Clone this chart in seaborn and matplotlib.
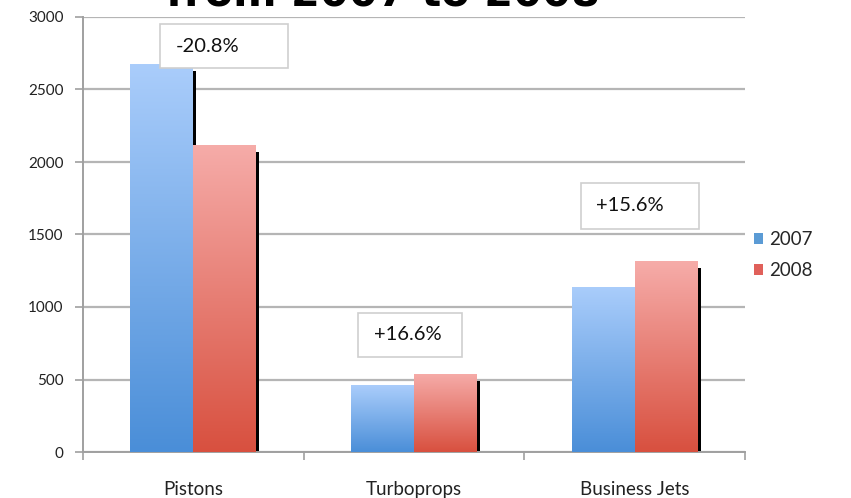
import numpy as np
import pandas as pd
import matplotlib
matplotlib.use("Agg")
import matplotlib.pyplot as plt
import matplotlib.transforms as mtransforms
from matplotlib.patches import Rectangle
from matplotlib.colors import LinearSegmentedColormap
import seaborn as sns

# ---- data ----
categories = ["Pistons", "Turboprops", "Business Jets"]
years = ["2007", "2008"]
values_2007 = [2675, 461, 1138]
values_2008 = [2119, 538, 1315]
changes = ["-20.8%", "+16.6%", "+15.6%"]
yticks = [0, 500, 1000, 1500, 2000, 2500, 3000]
title_text = "from 2007 to 2008"

df = pd.DataFrame({
    "category": categories * 2,
    "year": [years[0]] * 3 + [years[1]] * 3,
    "value": values_2007 + values_2008,
})

sns.set_theme(style="white")
plt.rcParams["font.family"] = ["Lato", "DejaVu Sans"]

fig = plt.figure(figsize=(8.51, 4.98), dpi=100)
ax = fig.add_axes([83 / 851, 1 - 452 / 498, (745 - 83) / 851, (452 - 17) / 498])

palette = ["#5b9bd5", "#e0605a"]
sns.barplot(data=df, x="category", y="value", hue="year", palette=palette,
            width=0.57, ax=ax, saturation=1, zorder=3, edgecolor="none",
            linewidth=0)

ax.set_xlim(-0.5, 2.5)
ax.set_ylim(0, 3000)
ax.set_yticks(yticks)
ax.set_xlabel("")
ax.set_ylabel("")

grads = [
    LinearSegmentedColormap.from_list("b", ["#4a8ed8", "#aacdfb"]),
    LinearSegmentedColormap.from_list("r", ["#d8503f", "#f6aca9"]),
]
grad = np.linspace(0, 1, 256).reshape(-1, 1)

shadow_tr = mtransforms.offset_copy(ax.transData, fig=fig, x=3, y=-7, units="dots")
for ci, cont in enumerate(ax.containers):
    for p in cont.patches:
        x, w, h = p.get_x(), p.get_width(), p.get_height()
        ax.add_patch(Rectangle((x, 0), w, h, facecolor="black", edgecolor="none",
                               transform=shadow_tr, zorder=2, clip_on=True))
        im = ax.imshow(grad, cmap=grads[ci], aspect="auto", origin="lower",
                       extent=(x, x + w, 0, h), zorder=4, interpolation="bilinear")
        im.set_clip_path(p)
ax.set_xlim(-0.5, 2.5)
ax.set_ylim(0, 3000)

# grid & spines
ax.yaxis.grid(True, color="#b5b5b5", linewidth=1.6, zorder=0)
ax.set_axisbelow(True)
for s in ["top", "right"]:
    ax.spines[s].set_visible(False)
for s in ["left", "bottom"]:
    ax.spines[s].set_color("#a0a0a0")
    ax.spines[s].set_linewidth(1.4)

ax.tick_params(axis="y", which="major", length=6, width=1.2, color="#a0a0a0",
               labelsize=11, labelcolor="#222222", pad=8, left=True)
ax.set_xticks([-0.5, 0.5, 1.5, 2.5], minor=True)
ax.tick_params(axis="x", which="minor", length=6, width=1.2, color="#a0a0a0",
               bottom=True)
ax.tick_params(axis="x", which="major", length=0, labelsize=13.5,
               labelcolor="#222222", pad=21)

# change annotation boxes
boxes = [(-0.151, 2648, 0.58, 304), (0.746, 655, 0.471, 304), (1.756, 1538, 0.535, 317)]
text_pos = [(-0.079, 2800), (0.819, 807), (1.824, 1697)]
for (bx, by, bw, bh), (tx, ty), lab in zip(boxes, text_pos, changes):
    ax.add_patch(Rectangle((bx, by), bw, bh, facecolor="white", edgecolor="#cfcfcf",
                           linewidth=1.2, zorder=6, clip_on=False))
    ax.text(tx, ty, lab, ha="left", va="center", fontsize=14.5, color="#111111",
            zorder=7)

# legend
sns.move_legend(ax, "center left", bbox_to_anchor=(0.988, 0.453), frameon=False,
                title=None, fontsize=13.5, handlelength=0.5, handleheight=0.5,
                handletextpad=0.3, labelspacing=0.75)

fig.text(383 / 851, 1 - 6 / 498, title_text, ha="center", va="baseline",
         fontsize=30, fontweight="bold", family="DejaVu Sans", color="black")

fig.savefig("out.png", dpi=100, facecolor="white")
